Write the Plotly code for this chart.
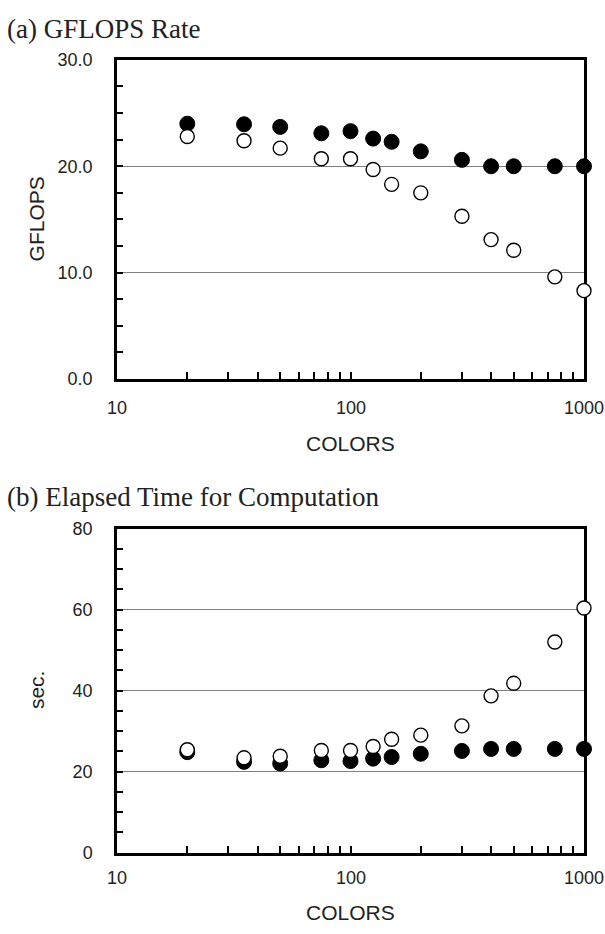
import math
import plotly.graph_objects as go

colors = [20, 35, 50, 75, 100, 125, 150, 200, 300, 400, 500, 750, 1000]
gflops_filled = [24.0, 23.95, 23.7, 23.1, 23.3, 22.6, 22.3, 21.4, 20.6, 20.0, 20.0, 20.0, 20.0]
gflops_open = [22.8, 22.4, 21.7, 20.7, 20.7, 19.7, 18.3, 17.5, 15.3, 13.1, 12.1, 9.6, 8.3]
time_filled = [24.8, 22.4, 22.0, 22.8, 22.6, 23.2, 23.6, 24.4, 25.1, 25.6, 25.6, 25.6, 25.6]
time_open = [25.4, 23.4, 23.8, 25.2, 25.2, 26.2, 28.0, 29.0, 31.3, 38.7, 41.8, 52.0, 60.4]

x_major = [10, 100, 1000]
x_minor = [m * d for d in (10, 100) for m in range(2, 10)]
x_all = sorted(x_major + x_minor)

W, H = 605, 934
SANS = "Liberation Sans, Arial, sans-serif"
SERIF = "Liberation Serif, Times New Roman, serif"

fig = go.Figure()

def add_series(xa, ya, filled, opened):
    fig.add_trace(go.Scatter(x=colors, y=filled, mode="markers", xaxis=xa, yaxis=ya,
                             marker=dict(size=15, color="black", line=dict(color="black", width=1)),
                             cliponaxis=False, showlegend=False))
    fig.add_trace(go.Scatter(x=colors, y=opened, mode="markers", xaxis=xa, yaxis=ya,
                             marker=dict(size=14, color="white", line=dict(color="black", width=1.4)),
                             cliponaxis=False, showlegend=False))

add_series("x", "y", gflops_filled, gflops_open)
add_series("x2", "y2", time_filled, time_open)

xdom = [117 / W, 584 / W]
top_dom = [(H - 377) / H, (H - 51) / H]
bot_dom = [(H - 861) / H, (H - 530) / H]

xcommon = dict(type="log", range=[1, 3], tickmode="array", tickvals=x_all,
               ticktext=["" for _ in x_all],
               ticks="inside", ticklen=7, tickwidth=2, tickcolor="black",
               showline=True, mirror=True, linewidth=2.5, linecolor="black",
               showgrid=False, zeroline=False, domain=xdom,
               tickfont=dict(family=SANS, size=18, color="#222"))
ycommon = dict(ticks="inside", ticklen=6, tickwidth=2, tickcolor="black",
               showline=True, mirror=True, linewidth=2.5, linecolor="black",
               showgrid=True, gridcolor="#808080", gridwidth=1.2, zeroline=False,
               layer="below traces",
               tickfont=dict(family=SANS, size=18, color="#222"), ticklabelstandoff=18)

fig.update_layout(
    width=W, height=H, margin=dict(l=0, r=0, t=0, b=0),
    plot_bgcolor="white", paper_bgcolor="white",
    xaxis=dict(**xcommon, anchor="y"),
    yaxis=dict(**ycommon, domain=top_dom, anchor="x", range=[0, 30], dtick=10, tickformat=".1f",
               minor=dict(dtick=2.5, ticks="inside", ticklen=6, tickwidth=2, tickcolor="black", showgrid=False)),
    xaxis2=dict(**xcommon, anchor="y2"),
    yaxis2=dict(**ycommon, domain=bot_dom, anchor="x2", range=[0, 80], dtick=20,
                minor=dict(dtick=5, ticks="inside", ticklen=6, tickwidth=2, tickcolor="black", showgrid=False)),
)

def ann(text, x, y, size, family, xanchor="center", angle=0):
    fig.add_annotation(text=text, x=x / W, y=1 - y / H, xref="paper", yref="paper",
                       xanchor=xanchor, yanchor="middle", showarrow=False, textangle=angle,
                       font=dict(family=family, size=size, color="#222"))

# x tick labels placed at the log-axis positions of the major ticks
for xref, ypix in (("x", 407), ("x2", 887)):
    for v in x_major:
        fig.add_annotation(text=str(v), x=math.log10(v), y=1 - ypix / H, xref=xref, yref="paper",
                           xanchor="center", yanchor="middle", showarrow=False,
                           font=dict(family=SANS, size=18, color="#222"))

ann("(a) GFLOPS Rate", 5, 19, 27, SERIF, xanchor="left")
ann("(b) Elapsed Time for Computation", 5, 498, 27, SERIF, xanchor="left")
ann("GFLOPS", 36, 214, 21, SANS, angle=-90)
ann("sec.", 36, 695, 21, SANS, angle=-90)
ann("COLORS", 350, 443, 21, SANS)
ann("COLORS", 350, 922, 21, SANS)

fig.write_html("out.html")
